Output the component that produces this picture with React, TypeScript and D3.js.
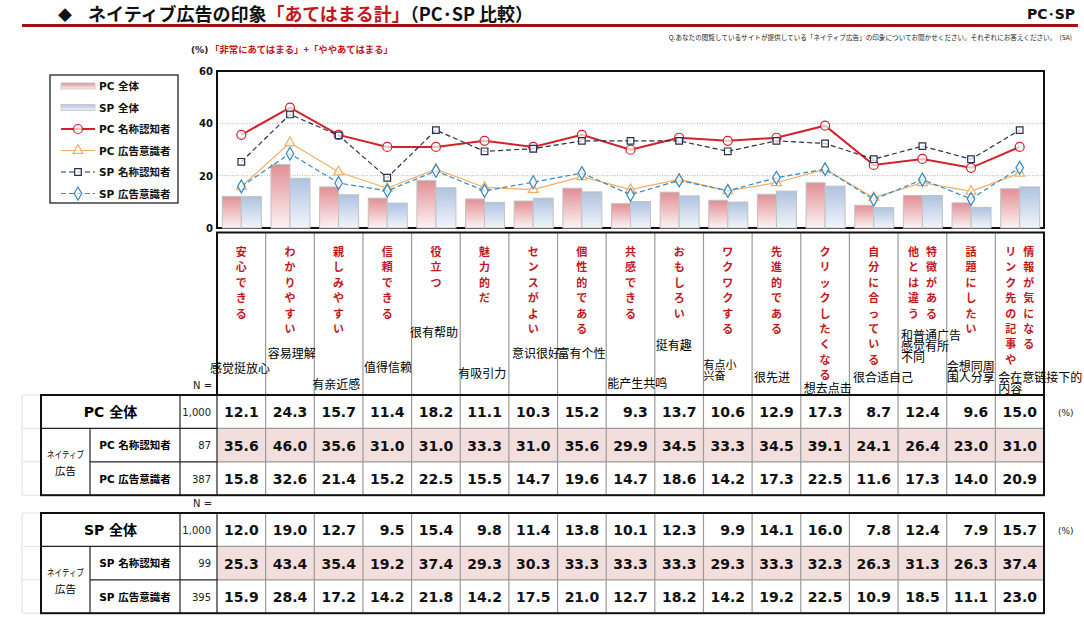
import * as d3 from "d3";

// vertical category headers; a second entry is the left-hand column of a two-column header
const categories: string[][] = [
  ["安心できる"], ["わかりやすい"], ["親しみやすい"], ["信頼できる"], ["役立つ"], ["魅力的だ"],
  ["センスがよい"], ["個性的である"], ["共感できる"], ["おもしろい"], ["ワクワクする"],
  ["先進的である"], ["クリックしたくなる"], ["自分に合っている"], ["特徴がある", "他とは違う"],
  ["話題にしたい"], ["情報が気になる", "リンク先の記事や"],
];

// overlaid Chinese captions
const zhLabels: string[][] = [
  ["感觉挺放心"], ["容易理解"], ["有亲近感"], ["值得信赖"], ["很有帮助"], ["有吸引力"],
  ["意识很好"], ["富有个性"], ["能产生共鸣"], ["挺有趣"], ["有点小", "兴奋"], ["很先进"],
  ["想去点击"], ["很合适自己"], ["和普通广告", "感觉有所", "不同"], ["会想同周", "围人分享"],
  ["会在意链接下的", "内容"],
];
// [dx from column start, first baseline] for each caption
const zhLayout: [number, number][] = [
  [-7, 373], [2, 358], [-2, 389], [1, 372], [-1.5, 337], [-2, 378], [3, 358], [0, 358], [1, 388],
  [1, 350], [0, 369], [2, 382], [3, 393], [3.5, 382], [3, 340], [0, 371], [3, 382],
];

const pcAll = [12.1, 24.3, 15.7, 11.4, 18.2, 11.1, 10.3, 15.2, 9.3, 13.7, 10.6, 12.9, 17.3, 8.7, 12.4, 9.6, 15.0];
const pcAware = [35.6, 46.0, 35.6, 31.0, 31.0, 33.3, 31.0, 35.6, 29.9, 34.5, 33.3, 34.5, 39.1, 24.1, 26.4, 23.0, 31.0];
const pcConscious = [15.8, 32.6, 21.4, 15.2, 22.5, 15.5, 14.7, 19.6, 14.7, 18.6, 14.2, 17.3, 22.5, 11.6, 17.3, 14.0, 20.9];
const spAll = [12.0, 19.0, 12.7, 9.5, 15.4, 9.8, 11.4, 13.8, 10.1, 12.3, 9.9, 14.1, 16.0, 7.8, 12.4, 7.9, 15.7];
const spAware = [25.3, 43.4, 35.4, 19.2, 37.4, 29.3, 30.3, 33.3, 33.3, 33.3, 29.3, 33.3, 32.3, 26.3, 31.3, 26.3, 37.4];
const spConscious = [15.9, 28.4, 17.2, 14.2, 21.8, 14.2, 17.5, 21.0, 12.7, 18.2, 14.2, 19.2, 22.5, 10.9, 18.5, 11.1, 23.0];

const yTicks = [0, 20, 40, 60];

const pcRows = [
  { label: "PC 全体", n: "1,000", values: pcAll },
  { label: "PC 名称認知者", n: "87", values: pcAware },
  { label: "PC 広告意識者", n: "387", values: pcConscious },
];
const spRows = [
  { label: "SP 全体", n: "1,000", values: spAll },
  { label: "SP 名称認知者", n: "99", values: spAware },
  { label: "SP 広告意識者", n: "395", values: spConscious },
];

const W = 1084;
const H = 623;
const plot = { l: 217, r: 1044, t: 71, b: 228 };
const JP = "'Noto Sans CJK JP', sans-serif";
const NUM = "'DejaVu Sans', 'Noto Sans CJK JP', sans-serif";
const RED = "#c4161c";

const x = d3.scaleBand<number>().domain(d3.range(categories.length)).range([plot.l, plot.r]);
const bw = x.bandwidth();
const cx = (i: number) => x(i)! + bw / 2;
const y = d3.scaleLinear().domain([0, 60]).range([plot.b, plot.t]);

const lines = [
  { key: "pcC", values: pcConscious, color: "#f2ae66", width: 1.2, dash: "", marker: "triangle" },
  { key: "pcA", values: pcAware, color: "#d4202a", width: 2, dash: "", marker: "circle" },
  { key: "spA", values: spAware, color: "#23304f", width: 1.2, dash: "5 3", marker: "square" },
  { key: "spC", values: spConscious, color: "#3388c2", width: 1.2, dash: "5 3", marker: "diamond" },
];

const legendItems = [
  { label: "PC 全体", kind: "bar", fill: "url(#gPink)" },
  { label: "SP 全体", kind: "bar", fill: "url(#gBlue)" },
  { label: "PC 名称認知者", kind: "line", line: lines[1] },
  { label: "PC 広告意識者", kind: "line", line: lines[0] },
  { label: "SP 名称認知者", kind: "line", line: lines[2] },
  { label: "SP 広告意識者", kind: "line", line: lines[3] },
];

function Marker({ type, px, py, color }: { type: string; px: number; py: number; color: string }) {
  if (type === "circle")
    return <circle cx={px} cy={py} r={4.5} fill="#fff" fillOpacity={0.7} stroke={color} strokeWidth={1.2} />;
  const sym =
    type === "triangle" ? d3.symbolTriangle : type === "square" ? d3.symbolSquare : d3.symbolDiamond;
  const size = type === "triangle" ? 42 : type === "square" ? 44 : 48;
  return (
    <path
      d={d3.symbol(sym, size)() ?? ""}
      transform={`translate(${px},${py})`}
      fill="#fff"
      fillOpacity={0.7}
      stroke={color}
      strokeWidth={1.2}
    />
  );
}

function Table({ top, rows }: { top: number; rows: typeof pcRows }) {
  const rh = 33.4;
  const left = 41;
  const groupR = 90;
  const labelR = 180;
  const nR = plot.l;
  const bottom = top + rh * rows.length;
  return (
    <g>
      {/* faint leftover grid on the far left */}
      <line x1={22} x2={22} y1={top} y2={bottom} stroke="#ddd" />
      {d3.range(rows.length + 1).map((k) => (
        <line key={`f${k}`} x1={22} x2={left} y1={top + k * rh} y2={top + k * rh} stroke="#e2e2e2" />
      ))}
      {/* shaded row */}
      <rect x={nR} y={top + rh} width={plot.r - nR} height={rh} fill="#f3dede" />
      {/* value column separators */}
      {d3.range(1, categories.length).map((i) => (
        <line key={`c${i}`} x1={x(i)} x2={x(i)} y1={top} y2={bottom} stroke="#9a9a9a" strokeWidth={1.2} />
      ))}
      {[1, 2].map((k) => (
        <g key={`r${k}`}>
          <line x1={k === 1 ? left : groupR} x2={nR} y1={top + k * rh} y2={top + k * rh} stroke="#222" strokeWidth={1.2} />
          <line x1={nR} x2={plot.r} y1={top + k * rh} y2={top + k * rh} stroke="#9a9a9a" strokeWidth={1.2} />
        </g>
      ))}
      <line x1={groupR} x2={groupR} y1={top + rh} y2={bottom} stroke="#222" strokeWidth={1.2} />
      <line x1={labelR} x2={labelR} y1={top} y2={bottom} stroke="#222" strokeWidth={1.2} />
      <line x1={nR} x2={nR} y1={top} y2={bottom} stroke="#222" strokeWidth={1.2} />
      <rect x={left} y={top} width={plot.r - left} height={bottom - top} fill="none" stroke="#111" strokeWidth={2} />

      <text x={(left + labelR) / 2} y={top + rh / 2 + 5} textAnchor="middle" fontFamily={NUM} fontWeight="bold" fontSize={14}>
        {rows[0].label}
      </text>
      <text x={(left + groupR) / 2} y={top + 2 * rh - 4} textAnchor="middle" fontFamily={JP} fontSize={9.5} textLength={37} lengthAdjust="spacingAndGlyphs">
        ネイティブ
      </text>
      <text x={(left + groupR) / 2} y={top + 2 * rh + 13} textAnchor="middle" fontFamily={JP} fontSize={10.5}>
        広告
      </text>
      {rows.map((row, k) => (
        <g key={row.label}>
          {k > 0 && (
            <text x={(groupR + labelR) / 2} y={top + k * rh + rh / 2 + 4} textAnchor="middle" fontFamily={NUM} fontWeight="bold" fontSize={10.5}>
              {row.label}
            </text>
          )}
          <text x={nR - 6} y={top + k * rh + rh / 2 + 4} textAnchor="end" fontFamily={NUM} fontSize={10} fill="#222">
            {row.n}
          </text>
          {row.values.map((v, i) => (
            <text
              key={i}
              x={x(i)! + bw - 7}
              y={top + k * rh + rh / 2 + 5.5}
              textAnchor="end"
              fontFamily={NUM}
              fontWeight="bold"
              fontSize={14}
              fill="#111"
            >
              {v.toFixed(1)}
            </text>
          ))}
        </g>
      ))}
      <text x={1058} y={top + rh / 2 + 4} fontFamily={NUM} fontSize={9} fill="#222">
        (%)
      </text>
      <text x={193} y={top - 6} fontFamily={NUM} fontSize={10} fill="#222">
        N =
      </text>
    </g>
  );
}

export default function App() {
  const line = (vals: number[]) =>
    d3
      .line<number>()
      .x((_, i) => cx(i))
      .y((d) => y(d))(vals) ?? "";

  const headTop = 232.5;
  const headBottom = 395;

  return (
    <div style={{ position: "absolute", left: 0, top: 0 }}>
      <svg width={W} height={H} style={{ display: "block", background: "#fff" }}>
        <defs>
          <linearGradient id="gPink" x1="0" y1="0" x2="0" y2="1">
            <stop offset="0" stopColor="#e08f95" />
            <stop offset="1" stopColor="#fdf3f3" />
          </linearGradient>
          <linearGradient id="gBlue" x1="0" y1="0" x2="0" y2="1">
            <stop offset="0" stopColor="#afc2df" />
            <stop offset="1" stopColor="#f1f5fb" />
          </linearGradient>
        </defs>

        {/* title */}
        <text x={58} y={20} fontFamily={JP} fontSize={14} fill="#111">◆</text>
        <text x={88} y={21} fontFamily={JP} fontWeight="bold" fontSize={18} fill="#111">
          ネイティブ広告の印象
          <tspan fill={RED}>「あてはまる計」</tspan>
          <tspan>（PC･SP 比較）</tspan>
        </text>
        <text x={1075} y={19} textAnchor="end" fontFamily={NUM} fontWeight="bold" fontSize={14} fill="#111">
          PC･SP
        </text>
        <rect x={22} y={24} width={1056} height={3} fill="#a30f12" />
        <text x={1072} y={40} textAnchor="end" fontFamily={JP} fontSize={6.6} fill="#222">
          Q.あなたの閲覧しているサイトが提供している「ネイティブ広告」の印象についてお聞かせください。それぞれにお答えください。　(SA)
        </text>
        <text x={191} y={53} fontFamily={NUM} fontWeight="bold" fontSize={9} fill="#222">(%)</text>
        <text x={210} y={53} fontFamily={JP} fontWeight="bold" fontSize={9.4} fill={RED}>
          「非常にあてはまる」+「ややあてはまる」
        </text>

        {/* legend */}
        <rect x={50} y={75} width={128} height={128} fill="#fff" stroke="#222" strokeWidth={1.3} />
        {legendItems.map((it, k) => {
          const ly = 86 + k * 21.5;
          return (
            <g key={it.label}>
              {it.kind === "bar" ? (
                <rect x={61} y={ly - 3} width={34} height={6} fill={it.fill} stroke="#c4c4c4" strokeWidth={0.8} />
              ) : (
                <>
                  <line x1={61} x2={95} y1={ly} y2={ly} stroke={it.line!.color} strokeWidth={it.line!.width} strokeDasharray={it.line!.dash} />
                  <Marker type={it.line!.marker} px={78} py={ly} color={it.line!.color} />
                </>
              )}
              <text x={99} y={ly + 4} fontFamily={NUM} fontWeight="bold" fontSize={10.5} fill="#111">
                {it.label}
              </text>
            </g>
          );
        })}

        {/* plot */}
        {yTicks.map((t) => (
          <text key={t} x={213} y={y(t) + 4} textAnchor="end" fontFamily={NUM} fontWeight="bold" fontSize={10} fill="#111">
            {t}
          </text>
        ))}
        {[20, 40].map((t) => (
          <line key={t} x1={plot.l} x2={plot.r} y1={y(t)} y2={y(t)} stroke="#b0b0b0" strokeDasharray="1 1.5" />
        ))}
        <line x1={plot.l} x2={plot.r} y1={plot.b} y2={plot.b} stroke="#111" strokeWidth={2} />
        {pcAll.map((v, i) => (
          <rect key={`p${i}`} x={cx(i) - 19} y={y(v)} width={19} height={plot.b - y(v)} fill="url(#gPink)" stroke="#c2c2c2" strokeWidth={1} />
        ))}
        {spAll.map((v, i) => (
          <rect key={`s${i}`} x={cx(i)} y={y(v)} width={20} height={plot.b - y(v)} fill="url(#gBlue)" stroke="#c2c2c2" strokeWidth={1} />
        ))}
        {lines.map((ln) => (
          <g key={ln.key}>
            <path d={line(ln.values)} fill="none" stroke={ln.color} strokeWidth={ln.width} strokeDasharray={ln.dash} />
            {ln.values.map((v, i) => (
              <Marker key={i} type={ln.marker} px={cx(i)} py={y(v)} color={ln.color} />
            ))}
          </g>
        ))}
        <path
          d={`M${plot.l},${plot.b + 1}V${plot.t}H${plot.r}V${plot.b + 1}`}
          fill="none"
          stroke="#111"
          strokeWidth={2}
        />

        {/* category header */}
        {d3.range(1, categories.length).map((i) => (
          <line key={`h${i}`} x1={x(i)} x2={x(i)} y1={headTop} y2={headBottom} stroke="#9a9a9a" strokeWidth={1.2} />
        ))}
        <path
          d={`M${plot.l},${headBottom}V${headTop}H${plot.r}V${headBottom}`}
          fill="none"
          stroke="#111"
          strokeWidth={2}
        />
        {categories.map((cols, i) =>
          cols.map((txt, c) => {
            const colX = cols.length === 1 ? cx(i) : cx(i) + (c === 0 ? 9 : -9);
            return Array.from(txt).map((ch, j) => (
              <text
                key={`${i}-${c}-${j}`}
                x={colX}
                y={256 + j * 15.4}
                textAnchor="middle"
                fontFamily={JP}
                fontWeight="bold"
                fontSize={11}
                fill={RED}
              >
                {ch}
              </text>
            ));
          }),
        )}
        {zhLabels.map((ls, i) =>
          ls.map((s, j) => (
            <text
              key={`z${i}-${j}`}
              x={x(i)! + zhLayout[i][0]}
              y={zhLayout[i][1] + j * 11}
              fontFamily="'Noto Sans CJK SC', sans-serif"
              fontSize={i === 10 ? 11 : 12}
              fill="#000"
            >
              {s}
            </text>
          )),
        )}

        <Table top={395} rows={pcRows} />
        <Table top={513} rows={spRows} />
      </svg>
    </div>
  );
}
